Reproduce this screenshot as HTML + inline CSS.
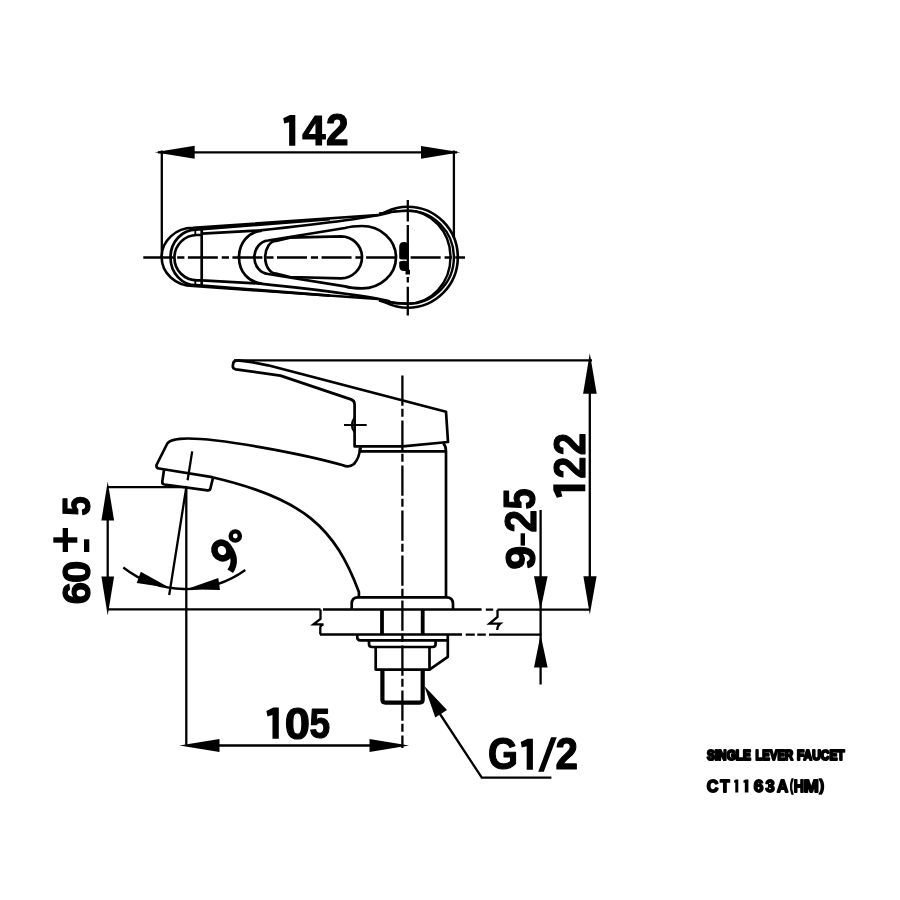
<!DOCTYPE html>
<html><head><meta charset="utf-8"><style>
html,body{margin:0;padding:0;background:#fff;width:900px;height:900px;overflow:hidden}
svg{display:block;will-change:transform}
text{font-family:"Liberation Sans",sans-serif;font-weight:bold;fill:#000;stroke:#000;stroke-width:1.2px;stroke-linejoin:round}
.d{fill:none;stroke:#000;stroke-width:2.3}
.o{fill:none;stroke:#000;stroke-width:2.7;stroke-linejoin:round}
.c{fill:none;stroke:#000;stroke-width:2.3}
.f{fill:#000;stroke:none}
</style></head><body>
<svg width="900" height="900" viewBox="0 0 900 900">
<path d="M158 152.3H457" class="d"/>
<path d="M154.7 152.3L194.7 145.8L194.7 158.8Z" class="f"/>
<path d="M460.3 152.3L421 145.9L421 158.7Z" class="f"/>
<path d="M161.8 150.5V257M453.9 150.5V238" class="d"/>
<path d="M295.30 114.90L295.30 145.70L289.13 145.70L289.13 122.29L284.29 123.62L283.20 118.29L289.98 114.90Z" class="f"/>
<text x="302.17" y="145.10" font-size="43.17" textLength="23.35" lengthAdjust="spacingAndGlyphs">4</text>
<text x="325.98" y="145.10" font-size="43.84" textLength="22.55" lengthAdjust="spacingAndGlyphs">2</text>
<path d="M143.3 257.5H465" class="c" stroke-dasharray="30 3.9 7.2 3.46"/>
<path d="M407.8 200V315.6" class="c" stroke-dasharray="21.4 3.5 47.1 5 5.5 4.2 40"/>
<path d="M379 214C386 213.5 390 206.8 407.8 206.7A50 50.5 0 0 1 457.8 257.2A50 50.5 0 0 1 407.8 307.7C390 307.6 386 300.9 379 300.4" class="o" style="stroke-width:2.6px"/>
<path d="M379 214C390 212 395 210.6 407.8 210.6A46.1 46.6 0 0 1 453.9 257.2A46.1 46.6 0 0 1 407.8 303.8C395 303.8 390 302.4 379 300.4" class="o" style="stroke-width:2.4px"/>
<path d="M379 214C390 212 395 210.8 407.8 210.8A42.7 46.4 0 0 1 450.5 257.2A42.7 46.4 0 0 1 407.8 303.6C395 303.6 390 302.2 379 300.4" class="o" style="stroke-width:2.4px"/>
<path d="M378 215L193 227.8A31.4 29.1 0 0 0 193 286L378 299" class="o" style="stroke-width:2.6px"/>
<path d="M330 219.2L196 229.6A25.5 27.8 0 0 0 196 285.2L330 295.6" class="o"/>
<path d="M390 212.5C370 218 320 224 260 230.4L201.7 233.6M390 301.5C370 296 320 290 260 283.6L201.7 280.4" class="o"/>
<path d="M201.7 235H197A22.6 22.7 0 0 0 197 280.4H201.7" class="o"/>
<path d="M201.7 229.8V285" class="o"/>
<path d="M195.3 229.5V235.5M195.3 279.6V285.4" class="o" style="stroke-width:1.8px"/>
<path d="M262 230.6C248 232 239 243 239 257.2C239 271.4 248 282 262 283.6" class="o"/>
<path d="M268 240.5L345 228Q352 226 362 226A34 31.2 0 0 1 362 288.4Q352 288.4 345 286.4L268 274A14.8 16.8 0 0 1 268 240.5Z" class="o"/>
<path d="M276 241L290 237.6L341 236.3A21 21 0 0 1 341 278.3L290 277L276 273.6A10.8 16.3 0 0 1 276 241Z" class="o"/>
<path d="M399.2 247Q399.2 242 404 242Q408.6 242 408.6 247V258Q408.6 259.6 404 259.6Q399.2 259.6 399.2 258Z" class="f"/>
<path d="M399.2 262.5Q399.2 260.8 404 260.8Q408.6 260.8 408.6 264V269.8H410V274.5H405.5V271H404Q399.2 271 399.2 266Z" class="f"/>
<path d="M234 360.3H592" class="d"/>
<path d="M589.8 392V578" class="d"/>
<path d="M589.8 353.3L583.1 393.7L596.7 393.7Z" class="f"/>
<path d="M589.8 614.5L583.4 576.3L596.6 576.3Z" class="f"/>
<g transform="translate(569.30,491.10) rotate(-90)"><path d="M6.70 -16.00L6.70 16.00L-0.13 16.00L-0.13 -8.32L-5.49 -6.94L-6.70 -12.48L0.80 -16.00Z" class="f"/></g>
<g transform="translate(569.30,467.80) rotate(-90)"><text x="-10.77" y="15.40" font-size="44.13" textLength="21.74" lengthAdjust="spacingAndGlyphs">2</text></g>
<g transform="translate(569.30,444.15) rotate(-90)"><text x="-11.05" y="15.40" font-size="44.13" textLength="22.32" lengthAdjust="spacingAndGlyphs">2</text></g>
<path d="M238 360.4L250 361.8L268 365.3L446 411.7L448 442L402.7 446.4H354.6V404.5Q354.6 400.6 351 399.4L280.4 375.6L236 369.4Q232.6 368.8 232.8 366L233.3 363Q233.8 360.4 238 360.4Z" class="o"/>
<path d="M344 425H366.7M354.6 417.5Q349 425 354.6 432.5" class="o" style="stroke-width:2px"/>
<path d="M360.7 447.3L360 451.3M443.3 443.3Q446 446 446 451.3M360 451.3H446V597.3" class="o"/>
<path d="M360 448Q359.5 458 354 464Q349 468 343 465.3C306.7 454.9 212 436 180 438.8Q170 439.6 167.3 443.5L156.5 465Q156 468 159 468.5L212.2 477.2C304.9 498.6 335.1 528.6 358.9 592V597.3" class="o"/>
<path d="M164 470L162.3 481.6Q162 484 164.5 484.5L207.5 490.4Q210 490.6 210.4 488.5L213 477.7" class="o"/>
<path d="M192.2 451.4L187.6 480.2M186.5 486L169.2 595" class="d"/>
<path d="M107.7 487.2H187M186.3 487V746" class="d"/>
<path d="M107.7 518V579" class="d"/>
<path d="M107.7 481.6L101.4 520.5L114.1 520.5Z" class="f"/>
<path d="M107.7 615.4L101.4 576.5L114.1 576.5Z" class="f"/>
<path d="M107.7 609.4H320.5M323 609.5H481.6M485.8 609.6H493.2M497.5 609.7H590" class="d"/>
<path d="M320.5 609.5V619L313.5 624.3H323.5Q320.5 625 320.3 627.5V634.5M497.5 609.7V617L489.5 623.7H500Q497.5 625.5 497.2 630" class="d"/>
<path d="M320 634.5H462M465.7 634.6H474.8M477.3 634.6H485.8M489 634.7H541.5" class="d"/>
<path d="M351.7 609V604Q351.7 597.3 358 597.3H446.5Q453 597.3 453 604V609" class="o"/>
<path d="M382 609.5V634.5M422.7 609.5V634.5" class="o" style="stroke-width:3.8px"/>
<path d="M357.3 634.5V637.5Q357.3 640.3 360.3 640.3H447.8M447.8 634.5V656.8L429.5 669.6" class="o"/>
<path d="M369 640.3V644Q369 647 372 647H432.6Q435.6 647 435.6 644V640.3" class="o"/>
<path d="M375.7 647V669.6H429.5V647" class="o"/>
<path d="M382.4 669.6V699.5Q382.4 702.6 385.5 702.6H419.6Q422.7 702.6 422.7 699.5V669.6" class="o" style="stroke-width:4.2px"/>
<path d="M402.4 375.4V748" class="c" stroke-dasharray="30.3 3.1 8 3.6"/>
<path d="M215 745.5H372" class="d"/>
<path d="M179.5 745.5L219.5 739L219.5 752Z" class="f"/>
<path d="M409 745.5L369.5 739L369.5 752Z" class="f"/>
<path d="M278.80 707.60L278.80 738.80L272.48 738.80L272.48 715.09L267.52 716.43L266.40 711.03L273.34 707.60Z" class="f"/>
<text x="284.78" y="738.56" font-size="44.07" textLength="25.29" lengthAdjust="spacingAndGlyphs">0</text>
<text x="309.45" y="738.17" font-size="42.98" textLength="20.59" lengthAdjust="spacingAndGlyphs">5</text>
<path d="M540.6 510V684.5" class="d"/>
<path d="M540.6 609.8L534 576.3L547.6 576.3Z" class="f"/>
<path d="M540.6 634.8L534 667.4L547.6 667.4Z" class="f"/>
<g transform="translate(520.25,498.90) rotate(-90)"><text x="-10.57" y="14.81" font-size="43.70" textLength="21.04" lengthAdjust="spacingAndGlyphs">5</text></g>
<g transform="translate(520.25,521.35) rotate(-90)"><text x="-11.17" y="15.25" font-size="43.70" textLength="22.55" lengthAdjust="spacingAndGlyphs">2</text></g>
<rect x="520.6" y="533.3" width="4.4" height="12.3" class="f"/>
<g transform="translate(520.25,557.80) rotate(-90)"><text x="-12.02" y="14.82" font-size="43.08" textLength="24.13" lengthAdjust="spacingAndGlyphs">9</text></g>
<g transform="translate(76.60,593.05) rotate(-90)"><text x="-11.13" y="13.51" font-size="39.27" textLength="22.22" lengthAdjust="spacingAndGlyphs">6</text></g>
<g transform="translate(76.45,571.80) rotate(-90)"><text x="-11.10" y="13.65" font-size="39.69" textLength="22.25" lengthAdjust="spacingAndGlyphs">0</text></g>
<g transform="translate(76.35,506.00) rotate(-90)"><text x="-9.79" y="13.36" font-size="39.40" textLength="19.47" lengthAdjust="spacingAndGlyphs">5</text></g>
<rect x="53.3" y="537.3" width="24" height="5.4" class="f"/><rect x="62.7" y="528" width="5.3" height="24" class="f"/><rect x="84" y="539.3" width="5.3" height="12.7" class="f"/>
<path d="M123.3 567.5A102 102 0 0 0 245.3 570" class="d"/>
<path d="M170 588L140.8 571.7L136.7 583Z" class="f"/>
<path d="M186.3 589.2L218.3 578L220 590Z" class="f"/>
<g transform="translate(226,555.6) rotate(-33)"><ellipse cx="-0.6" cy="-6.5" rx="7.3" ry="8.1" fill="none" stroke="#000" stroke-width="6.6"/><path d="M6.6 -6C7.4 5 4 11.5 -5 15.5" fill="none" stroke="#000" stroke-width="6.6"/></g>
<circle cx="235.3" cy="536" r="4.6" fill="none" stroke="#000" stroke-width="4.4"/>
<path d="M424.3 686L435.3 717.5L447 710Z" class="f"/>
<path d="M440 714L481.8 777.7H551.4" class="d"/>
<text x="488.02" y="769.26" font-size="43.79" textLength="29.96" lengthAdjust="spacingAndGlyphs">G</text>
<path d="M532.90 738.70L532.90 769.80L526.68 769.80L526.68 746.16L521.80 747.50L520.70 742.12L527.53 738.70Z" class="f"/>
<path d="M551.1 737.3H556.7L543.8 771.8H538.2Z" class="f"/>
<text x="555.39" y="769.20" font-size="43.70" textLength="22.43" lengthAdjust="spacingAndGlyphs">2</text>
<text x="706.96" y="760.06" font-size="14.12" textLength="44.00" lengthAdjust="spacingAndGlyphs" style="stroke-width:2.2px">SINGLE</text>
<text x="755.44" y="760.00" font-size="14.24" textLength="37.70" lengthAdjust="spacingAndGlyphs" style="stroke-width:2.2px">LEVER</text>
<text x="797.00" y="760.06" font-size="14.12" textLength="47.63" lengthAdjust="spacingAndGlyphs" style="stroke-width:2.2px">FAUCET</text>
<text x="706.74" y="791.73" font-size="16.95" textLength="11.59" lengthAdjust="spacingAndGlyphs" style="stroke-width:1.8px">C</text>
<text x="720.23" y="791.50" font-size="16.28" textLength="9.33" lengthAdjust="spacingAndGlyphs" style="stroke-width:1.8px">T</text>
<path d="M738.30 779.40L738.30 792.40L735.29 792.40L735.29 782.52L734.39 783.08L734.00 780.83L735.59 779.40Z" class="f"/>
<path d="M748.40 779.40L748.40 792.40L744.83 792.40L744.83 782.52L743.76 783.08L743.30 780.83L745.19 779.40Z" class="f"/>
<text x="753.66" y="791.73" font-size="16.95" textLength="9.67" lengthAdjust="spacingAndGlyphs" style="stroke-width:1.8px">6</text>
<text x="765.52" y="791.71" font-size="16.93" textLength="9.18" lengthAdjust="spacingAndGlyphs" style="stroke-width:1.8px">3</text>
<text x="777.11" y="791.50" font-size="16.28" textLength="11.19" lengthAdjust="spacingAndGlyphs" style="stroke-width:1.8px">A</text>
<text x="793.85" y="791.50" font-size="16.28" textLength="10.19" lengthAdjust="spacingAndGlyphs" style="stroke-width:1.8px">H</text>
<text x="803.69" y="791.50" font-size="16.28" textLength="15.02" lengthAdjust="spacingAndGlyphs" style="stroke-width:1.8px">M</text>
<text x="789.92" y="790.90" font-size="15.86" textLength="3.19" lengthAdjust="spacingAndGlyphs" style="stroke-width:1.6px">(</text>
<text x="819.19" y="790.90" font-size="15.86" textLength="4.96" lengthAdjust="spacingAndGlyphs" style="stroke-width:1.6px">)</text>
</svg>
</body></html>
